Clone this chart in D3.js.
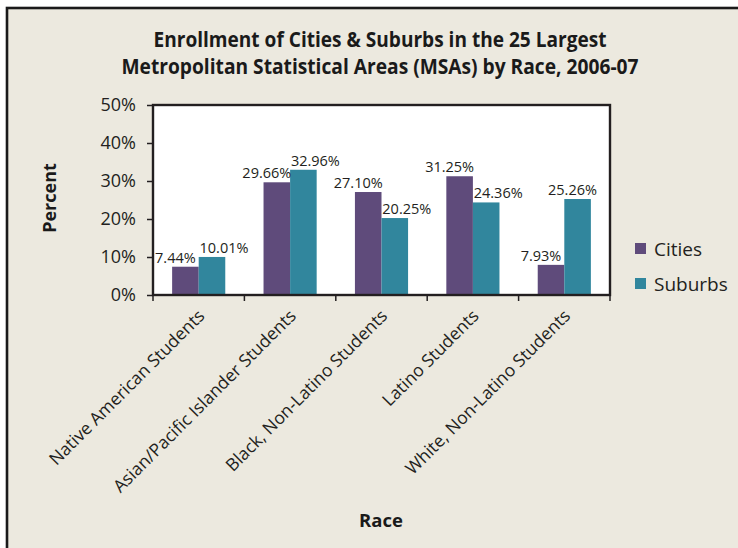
<!DOCTYPE html>
<html>
<head>
<meta charset="utf-8">
<script src="https://cdn.jsdelivr.net/npm/d3@7"></script>
<style>
    body { margin: 0; background: #fff; }
    svg { display: block; }
</style>
</head>
<body>
<svg id="chart"></svg>
<script>
var categories = [
    "Native American Students",
    "Asian/Pacific Islander Students",
    "Black, Non-Latino Students",
    "Latino Students",
    "White, Non-Latino Students"
];
var series = ["Cities", "Suburbs"];
var cities = [7.44, 29.66, 27.10, 31.25, 7.93];
var suburbs = [10.01, 32.96, 20.25, 24.36, 25.26];
var yTicks = [0, 10, 20, 30, 40, 50];
var titleLines = [
    "Enrollment of Cities & Suburbs in the 25 Largest",
    "Metropolitan Statistical Areas (MSAs) by Race, 2006-07"
];

var width = 738, height = 548;
var colors = {"Cities": "#5f4b7b", "Suburbs": "#31869d"};
var font = "'Open Sans', sans-serif";
var margin = ({top: 105, right: 128, bottom: 253, left: 153});

var svg = d3.select("#chart")
    .attr("width", width)
    .attr("height", height);

// background + outer frame (right/bottom edges fall outside the picture)
svg.append("rect")
    .attr("x", 7).attr("y", 8)
    .attr("width", width + 10).attr("height", height + 10)
    .attr("fill", "#ece9df")
    .attr("stroke", "#1a1a1a")
    .attr("stroke-width", 2.6);

var x = d3.scaleBand()
    .domain(categories)
    .range([margin.left, width - margin.right]);

var xs = d3.scaleBand()
    .domain(series)
    .range([0, x.bandwidth()])
    .paddingOuter(0.72);

var y = d3.scaleLinear()
    .domain([0, 50])
    .range([height - margin.bottom, margin.top]);

var data = categories.map(function(c, i) {
    return {name: c, values: [
        {key: "Cities", value: cities[i], cat: c},
        {key: "Suburbs", value: suburbs[i], cat: c}
    ]};
});

// plot area
svg.append("rect")
    .attr("x", x.range()[0]).attr("y", y(50))
    .attr("width", x.range()[1] - x.range()[0])
    .attr("height", y(0) - y(50))
    .attr("fill", "#fff");

var groups = svg.append("g")
    .selectAll("g")
    .data(data)
    .enter().append("g")
    .attr("transform", d => `translate(${x(d.name)},0)`);

groups.selectAll("rect")
    .data(d => d.values)
    .enter().append("rect")
    .attr("x", d => xs(d.key))
    .attr("y", d => y(d.value))
    .attr("width", xs.bandwidth())
    .attr("height", d => y(0) - y(d.value))
    .attr("fill", d => colors[d.key]);

// value labels: nudged apart, kept inside the plot area
var labelShift = {"Cities": -10, "Suburbs": 12};
groups.selectAll("text")
    .data(d => d.values)
    .enter().append("text")
    .attr("y", d => y(d.value) - 4)
    .attr("text-anchor", "middle")
    .style("font", "14.5px " + font)
    .attr("fill", "#231f20")
    .text(d => d.value.toFixed(2) + "%")
    .attr("x", function(d) {
        var half = this.getComputedTextLength() / 2;
        var cx = xs(d.key) + xs.bandwidth() / 2 + labelShift[d.key];
        var maxX = x.range()[1] - 13 - x(d.cat) - half;
        return Math.min(cx, maxX);
    });

// frame of plot area
svg.append("rect")
    .attr("x", x.range()[0]).attr("y", y(50))
    .attr("width", x.range()[1] - x.range()[0])
    .attr("height", y(0) - y(50))
    .attr("fill", "none")
    .attr("stroke", "#231f20")
    .attr("stroke-width", 2.4);

// y axis
var yAxis = g => g
    .attr("transform", `translate(${margin.left},0)`)
    .call(d3.axisLeft(y).tickValues(yTicks).tickSize(6).tickPadding(11).tickFormat(d => d + "%"))
    .call(g => g.select(".domain").remove())
    .call(g => g.selectAll("line").attr("stroke", "#231f20").attr("stroke-width", 1.5))
    .call(g => g.selectAll("text").style("font", "18px " + font).attr("fill", "#231f20"));

svg.append("g").call(yAxis);

// x axis ticks on the band boundaries
var bounds = categories.map(c => x(c)).concat([x.range()[1]]);
svg.append("g")
    .selectAll("line")
    .data(bounds)
    .enter().append("line")
    .attr("x1", d => d).attr("x2", d => d)
    .attr("y1", y(0)).attr("y2", y(0) + 6)
    .attr("stroke", "#231f20")
    .attr("stroke-width", 1.5);

svg.append("g")
    .selectAll("text")
    .data(categories)
    .enter().append("text")
    .attr("transform", d => `translate(${x(d) + x.bandwidth() / 2 + 7},${y(0) + 22}) rotate(-45)`)
    .attr("text-anchor", "end")
    .style("font", "17.5px " + font)
    .attr("fill", "#231f20")
    .text(d => d);

// title
var titleWidths = [453, 517];
svg.append("g")
    .selectAll("text")
    .data(titleLines)
    .enter().append("text")
    .attr("x", 380)
    .attr("y", (d, i) => 47 + i * 26.7)
    .attr("text-anchor", "middle")
    .attr("textLength", (d, i) => titleWidths[i])
    .attr("lengthAdjust", "spacingAndGlyphs")
    .style("font", "bold 21px " + font)
    .attr("fill", "#1a1a1a")
    .text(d => d);

// axis titles
svg.append("text")
    .attr("transform", "translate(56,198) rotate(-90)")
    .attr("text-anchor", "middle")
    .style("font", "bold 18px " + font)
    .attr("fill", "#1a1a1a")
    .text("Percent");

svg.append("text")
    .attr("x", 381)
    .attr("y", 527)
    .attr("text-anchor", "middle")
    .style("font", "bold 18.5px " + font)
    .attr("fill", "#1a1a1a")
    .text("Race");

// legend
var legend = svg.append("g")
    .selectAll("g")
    .data(series)
    .enter().append("g")
    .attr("transform", (d, i) => `translate(635,${243 + i * 35})`);

legend.append("rect")
    .attr("width", 11)
    .attr("height", 11)
    .attr("fill", d => colors[d]);

legend.append("text")
    .attr("x", 19)
    .attr("y", 13)
    .style("font", "19px " + font)
    .attr("fill", "#231f20")
    .text(d => d);
</script>
</body>
</html>
